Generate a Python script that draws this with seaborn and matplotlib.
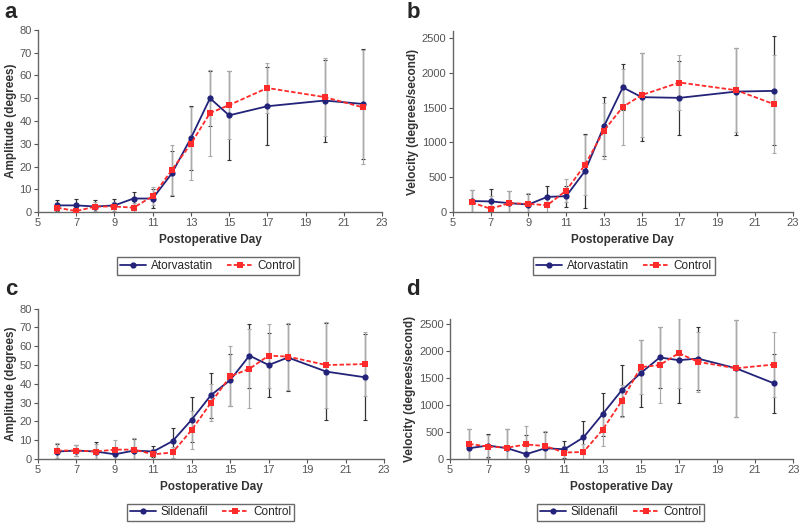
import numpy as np
import pandas as pd
import matplotlib
matplotlib.use("Agg")
import matplotlib.pyplot as plt
import seaborn as sns

sns.set_style("white")
plt.rcParams['font.family'] = ['Liberation Sans', 'DejaVu Sans']

# panel a / b: atorvastatin vs control
days_ab = [6, 7, 8, 9, 10, 11, 12, 13, 14, 15, 17, 20, 22]
amp_ator = [3, 3, 2.5, 3, 6, 6, 17, 32.5, 50, 42.5, 46.5, 49, 47.5]
amp_ator_err = [2.5, 3, 3, 3, 3, 4, 10, 14, 12, 19.5, 17, 18, 24]
amp_ctrl_a = [2, 0.5, 2.5, 2.5, 2, 7, 18.5, 30, 43.5, 47, 54.5, 50.5, 46]
amp_ctrl_a_err = [2, 2.5, 2, 2, 2, 4, 11, 16, 19, 15, 11, 17, 25]
vel_ator = [160, 155, 130, 110, 220, 230, 590, 1230, 1790, 1650, 1640, 1730, 1740]
vel_ator_err = [160, 180, 170, 150, 150, 150, 530, 420, 330, 630, 530, 620, 780]
vel_ctrl_b = [140, 50, 130, 120, 100, 310, 680, 1170, 1510, 1680, 1860, 1750, 1550]
vel_ctrl_b_err = [180, 180, 170, 150, 150, 170, 430, 400, 550, 600, 400, 600, 700]

# panel c / d: sildenafil vs control
days_cd = [6, 7, 8, 9, 10, 11, 12, 13, 14, 15, 16, 17, 18, 20, 22]
amp_sild = [4, 4.5, 4, 2.5, 4.5, 4, 9.5, 21, 34, 42, 55, 50, 54, 46.5, 43.5]
amp_sild_err = [4, 3, 5, 4, 6, 3, 7, 12, 12, 14, 17, 17, 18, 26, 23]
amp_ctrl_c = [4.5, 4.5, 4, 5, 5, 2.5, 3.5, 15.5, 30, 44, 48, 55, 54.5, 50, 50.5]
amp_ctrl_c_err = [4, 3, 4, 5, 6, 3, 3, 10, 10, 16, 21, 17, 18, 23, 17]
vel_sild = [200, 250, 200, 90, 200, 180, 400, 830, 1270, 1590, 1880, 1830, 1860, 1680, 1400]
vel_sild_err = [350, 220, 350, 350, 300, 160, 300, 400, 470, 620, 570, 790, 580, 900, 550]
vel_ctrl_d = [280, 230, 210, 270, 240, 120, 130, 540, 1070, 1700, 1740, 1960, 1800, 1680, 1750]
vel_ctrl_d_err = [280, 220, 340, 340, 280, 120, 150, 300, 300, 500, 700, 650, 560, 900, 600]

BLUE = "#23237a"
RED = "#ff2a2a"
TICK_GREY = "#555555"

fig = plt.figure(figsize=(8, 5.24), dpi=100)

panels = [
    ("a", [0.0475, 0.595, 0.43, 0.348], (0.006, 0.977), days_ab, "Atorvastatin", amp_ator, amp_ator_err,
     amp_ctrl_a, amp_ctrl_a_err, (0, 80), 80, 10, "Amplitude (degrees)", (0.26, 0.492)),
    ("b", [0.566, 0.595, 0.425, 0.346], (0.508, 0.977), days_ab, "Atorvastatin", vel_ator, vel_ator_err,
     vel_ctrl_b, vel_ctrl_b_err, (0, 2600), 2500, 500, "Velocity (degrees/second)", (0.78, 0.492)),
    ("c", [0.0475, 0.124, 0.4325, 0.287], (0.006, 0.448), days_cd, "Sildenafil", amp_sild, amp_sild_err,
     amp_ctrl_c, amp_ctrl_c_err, (0, 80), 80, 10, "Amplitude (degrees)", (0.263, 0.022)),
    ("d", [0.5625, 0.124, 0.429, 0.268], (0.508, 0.448), days_cd, "Sildenafil", vel_sild, vel_sild_err,
     vel_ctrl_d, vel_ctrl_d_err, (0, 2600), 2500, 500, "Velocity (degrees/second)", (0.776, 0.022)),
]

for (letter, rect, letter_pos, days, drug, y_drug, e_drug, y_ctrl, e_ctrl,
     ylim, ytop, ystep, ylabel, leg_pos) in panels:
    ax = fig.add_axes(rect)
    df = pd.DataFrame({
        "day": days + days,
        "value": y_drug + y_ctrl,
        "group": [drug] * len(days) + ["Control"] * len(days),
    })
    # error bars first so the lines sit on top
    ax.errorbar(days, y_drug, yerr=e_drug, fmt="none", ecolor="#333333",
                elinewidth=0.9, capsize=1.5, capthick=0.8, zorder=1)
    ax.errorbar(days, y_ctrl, yerr=e_ctrl, fmt="none", ecolor="#aaaaaa",
                elinewidth=0.9, capsize=1.5, capthick=0.8, linestyle=":", zorder=1)
    sns.lineplot(data=df, x="day", y="value", hue="group", style="group",
                 palette={drug: BLUE, "Control": RED},
                 dashes={drug: "", "Control": (2.5, 1.2)},
                 markers={drug: "o", "Control": "s"},
                 markersize=4.5, markeredgewidth=0, linewidth=1.3,
                 ax=ax, zorder=3)

    ax.set_xlim(5, 23)
    ax.set_xticks(range(5, 24, 2))
    ax.set_ylim(ylim)
    ax.set_yticks(np.arange(0, ytop + 1, ystep))
    ax.set_xlabel("Postoperative Day", fontsize=8.5, fontweight="bold", color="#333333")
    ax.set_ylabel(ylabel, fontsize=8.5, fontweight="bold", color="#333333", labelpad=2)
    ax.tick_params(axis="both", labelsize=8, colors=TICK_GREY, length=3, width=0.8,
                   direction="out", pad=1.5)
    ax.xaxis.set_ticks_position("bottom")
    ax.yaxis.set_ticks_position("left")
    for side in ["top", "right"]:
        ax.spines[side].set_visible(False)
    for side in ["left", "bottom"]:
        ax.spines[side].set_color("#666666")
        ax.spines[side].set_linewidth(1.0)

    handles, labels = ax.get_legend_handles_labels()
    ax.get_legend().remove()
    fig.legend(handles, labels, loc="center", bbox_to_anchor=leg_pos, ncol=2,
               fontsize=8.5, frameon=True, fancybox=False, edgecolor="#444444",
               handlelength=2.2, columnspacing=1.2, borderpad=0.25, handletextpad=0.4)

    fig.text(letter_pos[0], letter_pos[1], letter, fontsize=16, fontweight="bold",
             ha="left", va="center")

fig.savefig("out.png", dpi=100)
